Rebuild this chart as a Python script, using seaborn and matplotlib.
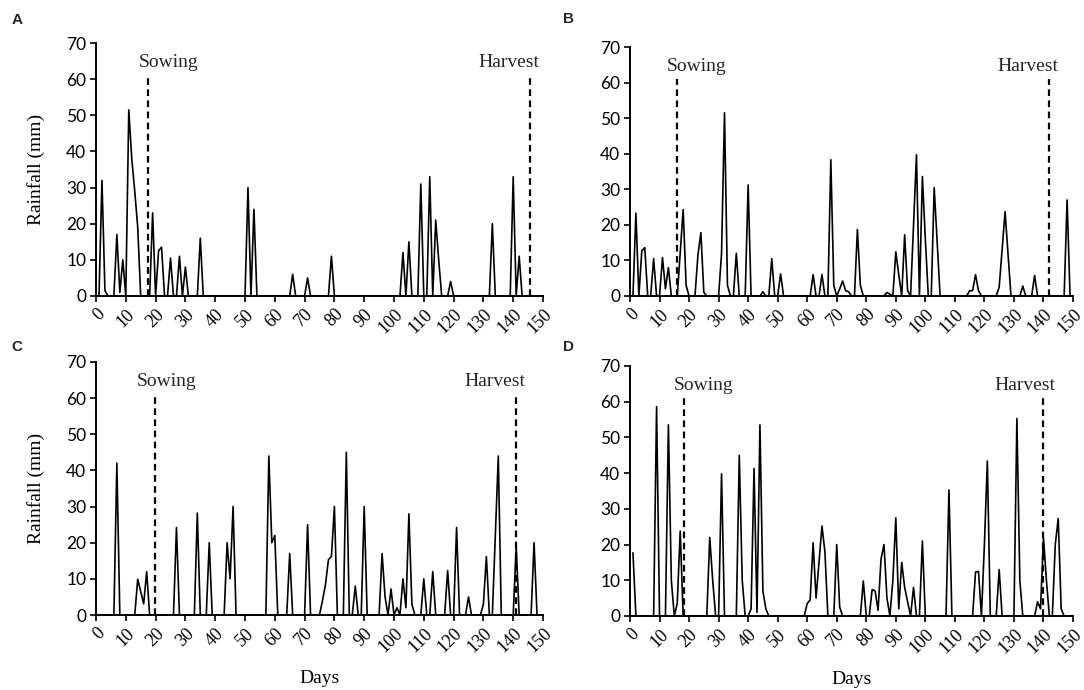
import seaborn as sns
import matplotlib.pyplot as plt
import numpy as np
import pandas as pd

# daily rainfall (mm); only rainy days are listed, all other days are 0
days_a = [2, 3, 7, 8, 9, 11, 12, 13, 14, 19, 21, 22, 25, 28, 30, 35, 51, 53, 66, 71, 79,
          103, 105, 109, 112, 114, 115, 119, 133, 140, 142]
rain_a = [32, 1.5, 17, 1, 10, 51.5, 38, 29, 19, 23, 12.5, 13.5, 10.5, 11, 8, 16, 30, 24, 6, 5, 11,
          12, 15, 31, 33, 21, 10, 4, 20, 33, 11]

days_b = [2, 4, 5, 8, 11, 12, 13, 17, 18, 19, 23, 24, 25, 31, 32, 33, 36, 40, 45, 48, 51,
          62, 65, 68, 69, 71, 72, 73, 74, 77, 78, 87, 88, 90, 91, 93, 94, 96, 97, 99, 100,
          103, 104, 115, 116, 117, 118, 125, 126, 127, 128, 133, 137, 148]
rain_b = [23.3, 12.7, 13.6, 10.5, 10.8, 2, 8, 12, 24.3, 3, 11.5, 17.8, 1, 12, 51.5, 3, 12, 31.2, 1.2, 10.5, 6.2,
          6, 6, 38.3, 3, 2, 4.2, 1.5, 1.2, 18.7, 3, 1, 0.5, 12.4, 6, 17.2, 1.5, 20, 39.7, 33.6, 16,
          30.5, 15, 1.5, 1.5, 6, 1.5, 2.5, 13, 23.7, 12, 2.8, 5.8, 27]

days_c = [7, 14, 15, 16, 17, 27, 34, 38, 44, 45, 46, 58, 59, 60, 65, 71, 76, 77, 78, 79, 80,
          84, 87, 90, 96, 97, 99, 101, 103, 104, 105, 106, 110, 113, 118, 121, 125, 130, 131,
          134, 135, 141, 147]
rain_c = [42, 9.9, 6.5, 3.1, 12, 24.2, 28.2, 20, 20, 10, 30, 44, 20, 22, 17, 25, 4, 8.4, 15.3, 16.2, 30,
          45, 8, 30, 17, 5, 7.2, 2, 10, 2, 28, 3, 10, 12, 12.3, 24.2, 5, 3, 16.2,
          22, 44, 19, 20]

days_d = [1, 9, 13, 14, 16, 17, 27, 28, 31, 37, 38, 41, 42, 43, 44, 45, 46, 60, 61, 62, 63, 64,
          65, 66, 70, 71, 79, 82, 83, 84, 85, 86, 87, 89, 90, 91, 92, 93, 94, 96, 99, 108,
          117, 118, 120, 121, 125, 131, 132, 138, 139, 140, 141, 144, 145, 146]
rain_d = [17.7, 58.6, 53.5, 10, 3.5, 23.8, 22, 10, 39.8, 45, 10, 2, 41.3, 1, 53.5, 7, 2, 3.5, 4.5, 20.5, 5, 15,
          25.2, 18, 20, 2.5, 9.8, 7.4, 7, 1.6, 16, 20, 5, 10, 27.5, 2, 15, 8, 4, 8, 21, 35.3,
          12.3, 12.5, 20, 43.4, 13, 55.3, 10, 4, 2, 22, 10, 20, 27.3, 2]

sowing = [17.5, 15.8, 19.8, 18.2]
harvest = [145.6, 142.0, 140.8, 139.8]
panels = ["A", "B", "C", "D"]


def daily(days, rain):
    s = pd.Series(0.0, index=np.arange(1, 151))
    s.loc[days] = rain
    return pd.DataFrame({"day": s.index, "rain": s.values})


data = [daily(days_a, rain_a), daily(days_b, rain_b), daily(days_c, rain_c), daily(days_d, rain_d)]

sns.set_theme(style="ticks")
plt.rcParams["font.family"] = ["Liberation Serif", "DejaVu Serif"]

W, H = 1084, 690
fig = plt.figure(figsize=(W / 100, H / 100), dpi=100)

# axes boxes in pixels: left, top, right, bottom
boxes = [(96, 43, 543, 296), (630, 47, 1073, 296), (96, 362, 543, 615), (630, 366, 1073, 616)]
letter_pos = [(17, 20), (568, 19), (17, 347), (568, 347)]
sow_dx = [6.7, 6.7, 4.0, 6.7]
har_dx = [-6.9, -7.4, -6.9, -6.2]

for i, (l, t, r, b) in enumerate(boxes):
    ax = fig.add_axes([l / W, 1 - b / H, (r - l) / W, (b - t) / H])
    sns.lineplot(data=data[i], x="day", y="rain", ax=ax, color="black", lw=1.2)
    ax.set_xlim(0, 150)
    ax.set_ylim(0, 70)
    ax.set_xticks(range(0, 151, 10))
    ax.set_yticks(range(0, 71, 10))
    ax.set_xticklabels([str(v) for v in range(0, 151, 10)], rotation=45, ha="right",
                       va="top", rotation_mode="anchor", fontsize=13)
    ax.set_yticklabels([str(v) for v in range(0, 71, 10)], fontsize=12.5, family="Lato")
    sns.despine(ax=ax)
    for sp in ["left", "bottom"]:
        ax.spines[sp].set_linewidth(1.4)
        ax.spines[sp].set_color("black")
    ax.tick_params(direction="out", length=4, width=1.2, color="black", pad=3, labelcolor="black")

    ax.vlines(sowing[i], 0, 61, colors="black", linestyles=(0, (3, 2)), lw=1.6)
    ax.vlines(harvest[i], 0, 61, colors="black", linestyles=(0, (3, 2)), lw=1.6)
    ax.text(sowing[i] + sow_dx[i], 64.5, "Sowing", ha="center", va="center", fontsize=14)
    ax.text(harvest[i] + har_dx[i], 64.5, "Harvest", ha="center", va="center", fontsize=14)

    ax.set_xlabel("Days" if i >= 2 else "", fontsize=14, color="black")
    ax.set_ylabel("Rainfall (mm)" if i % 2 == 0 else "", fontsize=14, color="black")
    ax.xaxis.set_label_coords(0.5, -55 / (b - t))
    ax.yaxis.set_label_coords(-51 / (r - l), 0.5)

    fig.text(letter_pos[i][0] / W, 1 - letter_pos[i][1] / H, panels[i], family="Liberation Sans",
             weight="bold", fontsize=11, ha="center", va="center")

fig.savefig("out.png", dpi=100)
